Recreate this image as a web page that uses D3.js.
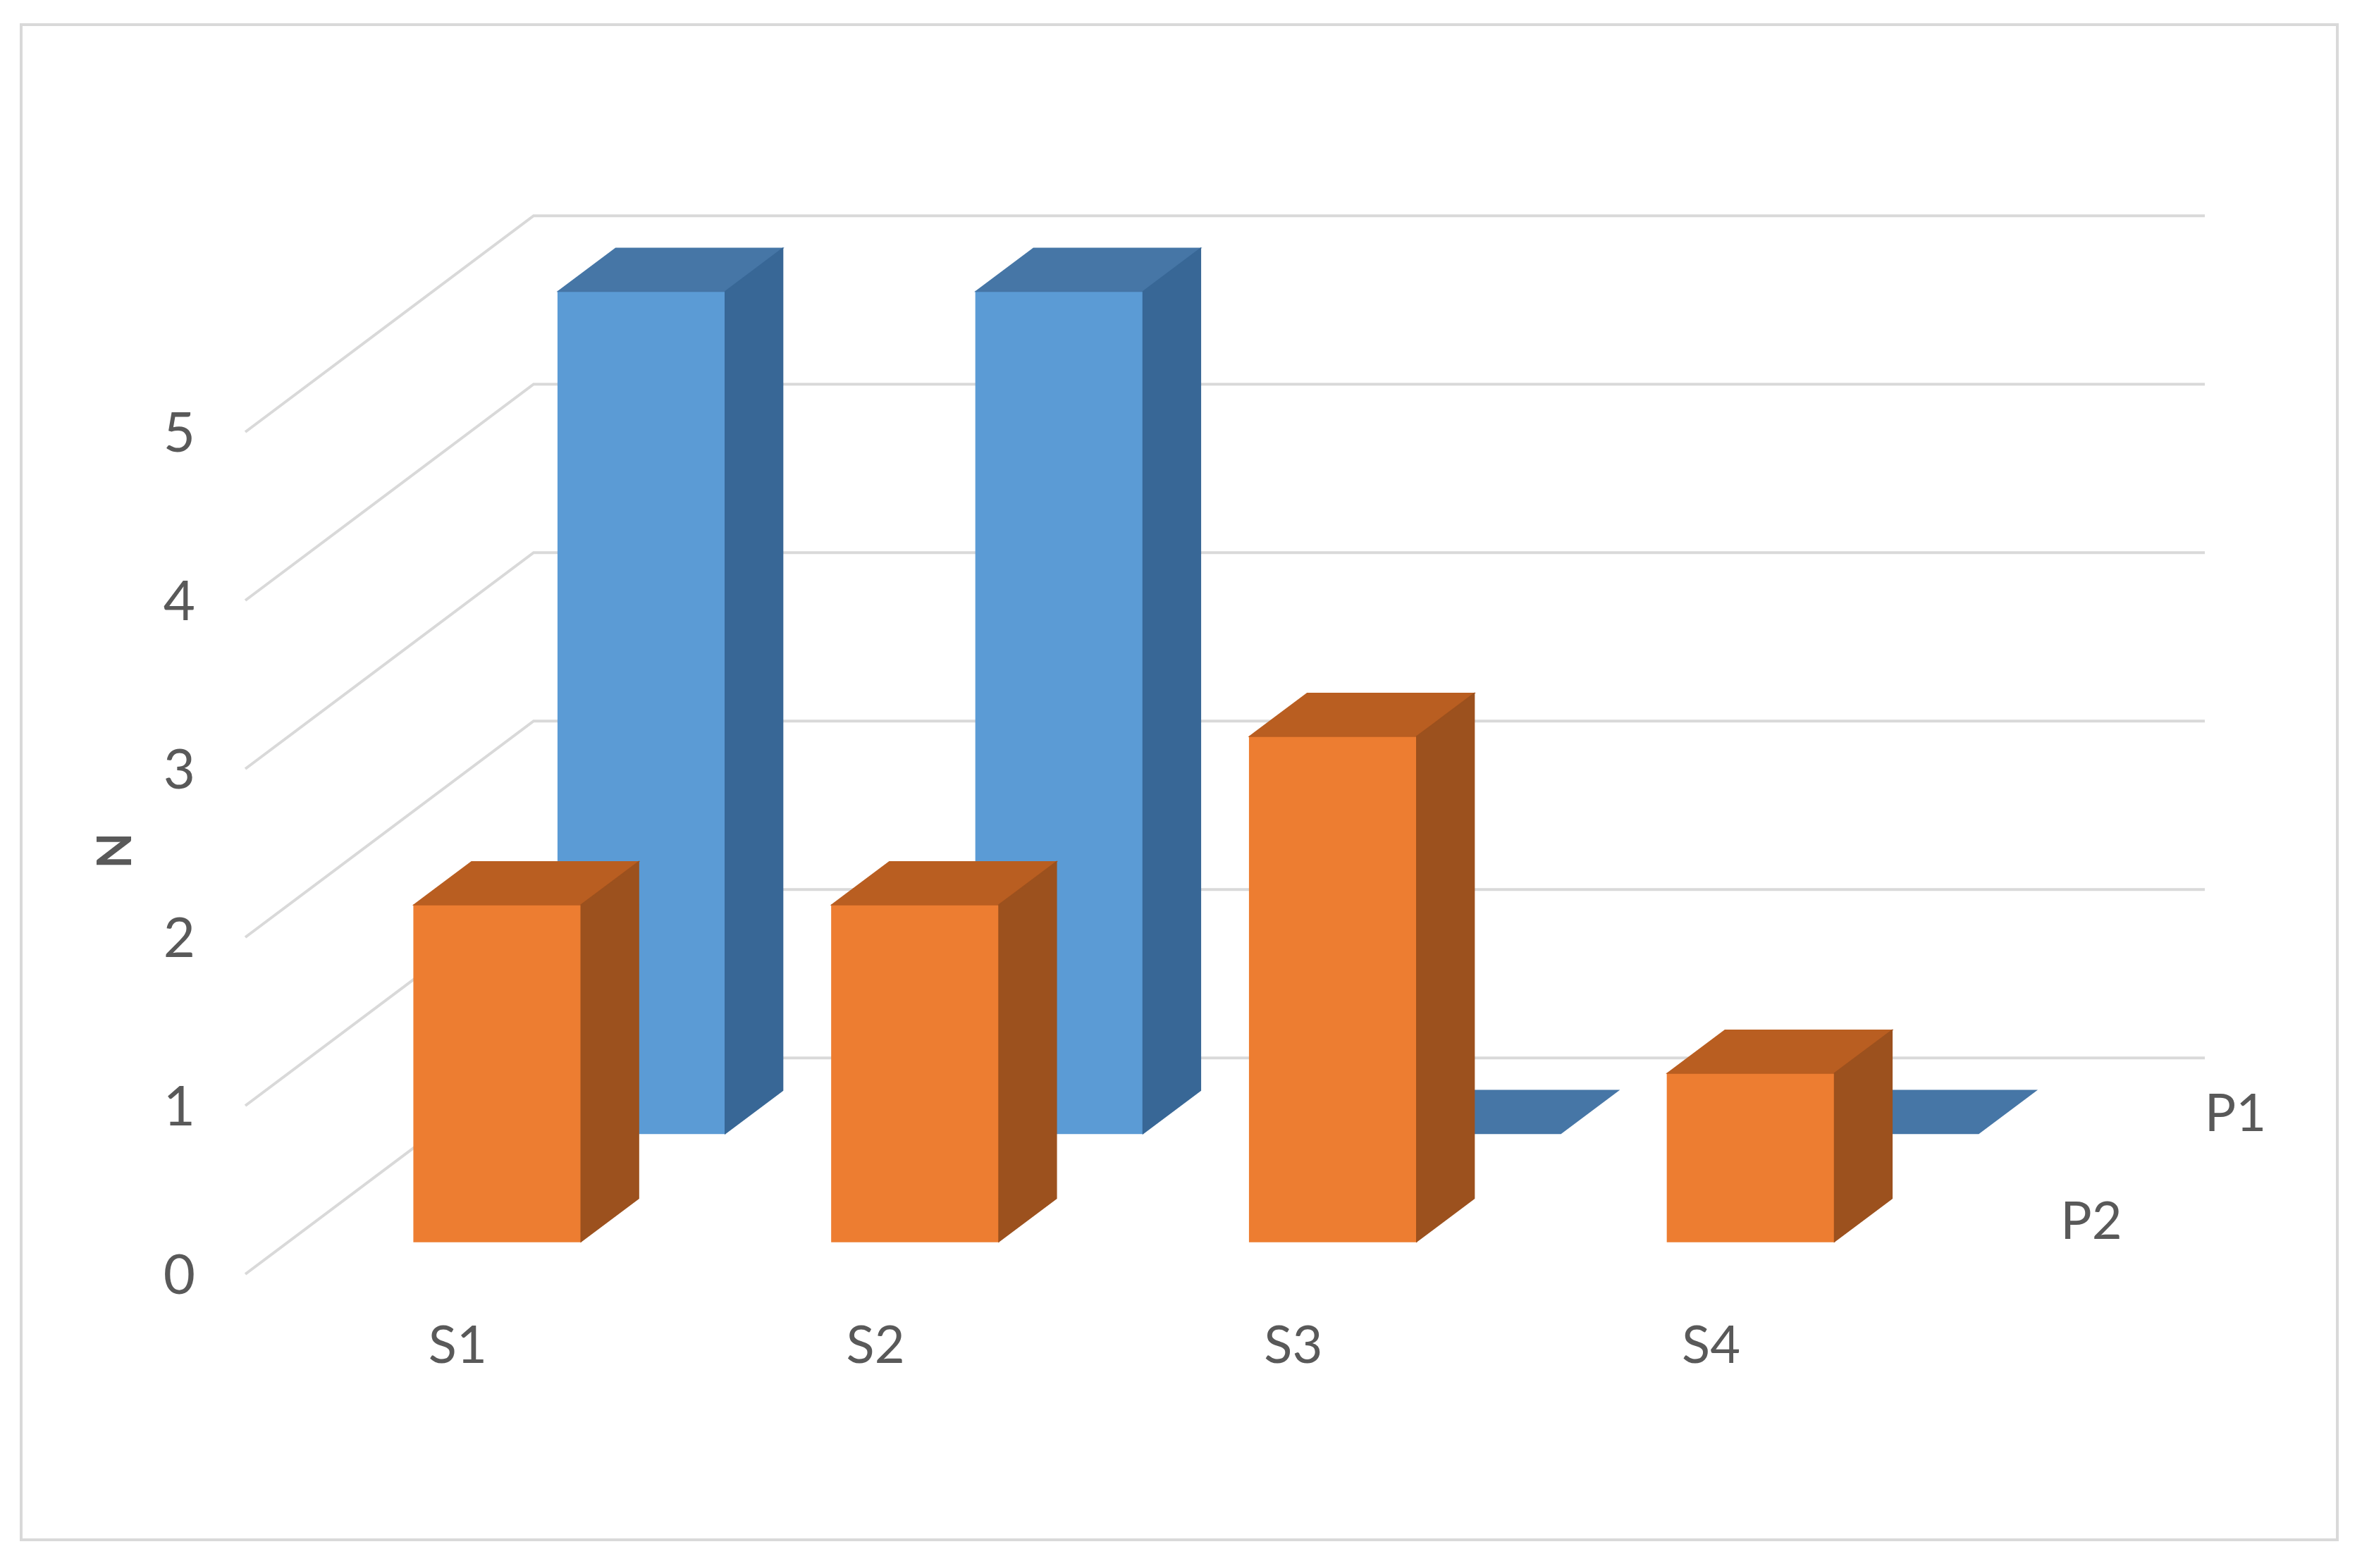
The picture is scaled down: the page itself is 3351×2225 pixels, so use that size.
<!DOCTYPE html>
<html>
<head>
<meta charset="utf-8">
<script src="https://cdn.jsdelivr.net/npm/d3@7"></script>
<style>
  body { margin: 0; background: #fff; }
  text { font-family: Lato, "Open Sans", sans-serif; fill: #595959; }
</style>
</head>
<body>
<script>
const categories = ['S1', 'S2', 'S3', 'S4'];
const seriesNames = ['P1', 'P2'];
const p1Values = [5, 5, 0, 0];
const p2Values = [2, 2, 3, 1];
const yTicks = [0, 1, 2, 3, 4, 5];

const width = 3351;
const height = 2225;

// front-left corner of the floor, and the oblique depth direction
const x0 = 348;
const y0 = 1808;
const floorWidth = 2371;
const floorDepth = 409;
const slope = 0.75;

const colors = {
  P1: { front: '#5b9bd5', top: '#4676a6', side: '#386796' },
  P2: { front: '#ed7d31', top: '#b95e21', side: '#9c511e' }
};

const svg = d3.select('body').append('svg')
    .attr('width', width)
    .attr('height', height);

svg.append('rect')
    .attr('x', 30).attr('y', 35)
    .attr('width', 3286).attr('height', 2150)
    .attr('fill', '#fff')
    .attr('stroke', '#d9d9d9')
    .attr('stroke-width', 4);

const xScale = d3.scaleBand()
    .domain(categories)
    .range([0, floorWidth])
    .paddingInner(0.6)
    .paddingOuter(0.3);

// P2 is the front row, P1 sits behind it
const zScale = d3.scaleBand()
    .domain(['P2', 'P1'])
    .range([0, floorDepth])
    .paddingInner(0.6)
    .paddingOuter(0.3);

const yScale = d3.scaleLinear()
    .domain([0, 5])
    .range([0, 1195]);

const proj = (x, z, v) => [x0 + x + z, y0 - z * slope - yScale(v)];

// walls: side wall diagonal + back wall horizontal for each tick
const line = d3.line();
svg.append('g')
    .attr('class', 'gridlines')
  .selectAll('path')
  .data(yTicks)
  .enter().append('path')
    .attr('d', v => line([proj(0, 0, v), proj(0, floorDepth, v), proj(floorWidth, floorDepth, v)]))
    .attr('fill', 'none')
    .attr('stroke', '#d9d9d9')
    .attr('stroke-width', 4);

const rows = [
  { name: 'P1', values: p1Values },
  { name: 'P2', values: p2Values }
];

const poly = pts => 'M' + pts.map(p => p.join(',')).join('L') + 'Z';

rows.forEach(row => {
  const z1 = zScale(row.name);
  const z2 = z1 + zScale.bandwidth();
  const c = colors[row.name];
  const bars = categories.map((cat, i) => ({ cat, v: row.values[i] }));

  const g = svg.append('g').attr('class', 'row-' + row.name)
    .selectAll('g')
    .data(bars)
    .enter().append('g');

  // front face
  g.filter(d => d.v > 0).append('path')
      .attr('d', d => {
        const xa = xScale(d.cat), xb = xa + xScale.bandwidth();
        return poly([proj(xa, z1, 0), proj(xb, z1, 0), proj(xb, z1, d.v), proj(xa, z1, d.v)]);
      })
      .attr('fill', c.front)
      .attr('stroke', c.front)
      .attr('stroke-width', 1.5);

  // top face (the only face left when the value is 0)
  g.append('path')
      .attr('d', d => {
        const xa = xScale(d.cat), xb = xa + xScale.bandwidth();
        return poly([proj(xa, z1, d.v), proj(xb, z1, d.v), proj(xb, z2, d.v), proj(xa, z2, d.v)]);
      })
      .attr('fill', c.top)
      .attr('stroke', c.top)
      .attr('stroke-width', 1.5);

  // right side face
  g.filter(d => d.v > 0).append('path')
      .attr('d', d => {
        const xb = xScale(d.cat) + xScale.bandwidth();
        return poly([proj(xb, z1, 0), proj(xb, z2, 0), proj(xb, z2, d.v), proj(xb, z1, d.v)]);
      })
      .attr('fill', c.side)
      .attr('stroke', c.side)
      .attr('stroke-width', 1.5);
});

// value axis labels
svg.append('g')
  .selectAll('text')
  .data(yTicks)
  .enter().append('text')
    .attr('x', 277)
    .attr('y', v => proj(0, 0, v)[1])
    .attr('dy', '0.36em')
    .attr('text-anchor', 'end')
    .style('font-size', '78px')
    .text(v => v);

// category labels
svg.append('g')
  .selectAll('text')
  .data(categories)
  .enter().append('text')
    .attr('x', cat => x0 + xScale(cat) + xScale.bandwidth() / 2 + 5)
    .attr('y', y0 + 99)
    .attr('dy', '0.36em')
    .attr('text-anchor', 'middle')
    .style('font-size', '74px')
    .text(cat => cat);

// series (depth axis) labels
svg.append('g')
  .selectAll('text')
  .data(seriesNames)
  .enter().append('text')
    .attr('x', s => proj(floorWidth, zScale(s) + zScale.bandwidth() / 2, 0)[0] + 102)
    .attr('y', s => proj(floorWidth, zScale(s) + zScale.bandwidth() / 2, 0)[1])
    .attr('dy', '0.36em')
    .style('font-size', '74px')
    .text(s => s);

svg.append('text')
    .attr('transform', 'translate(162,1207) rotate(-90)')
    .attr('dy', '0.36em')
    .attr('text-anchor', 'middle')
    .style('font-size', '66px')
    .style('font-weight', 'bold')
    .text('N');
</script>
</body>
</html>
